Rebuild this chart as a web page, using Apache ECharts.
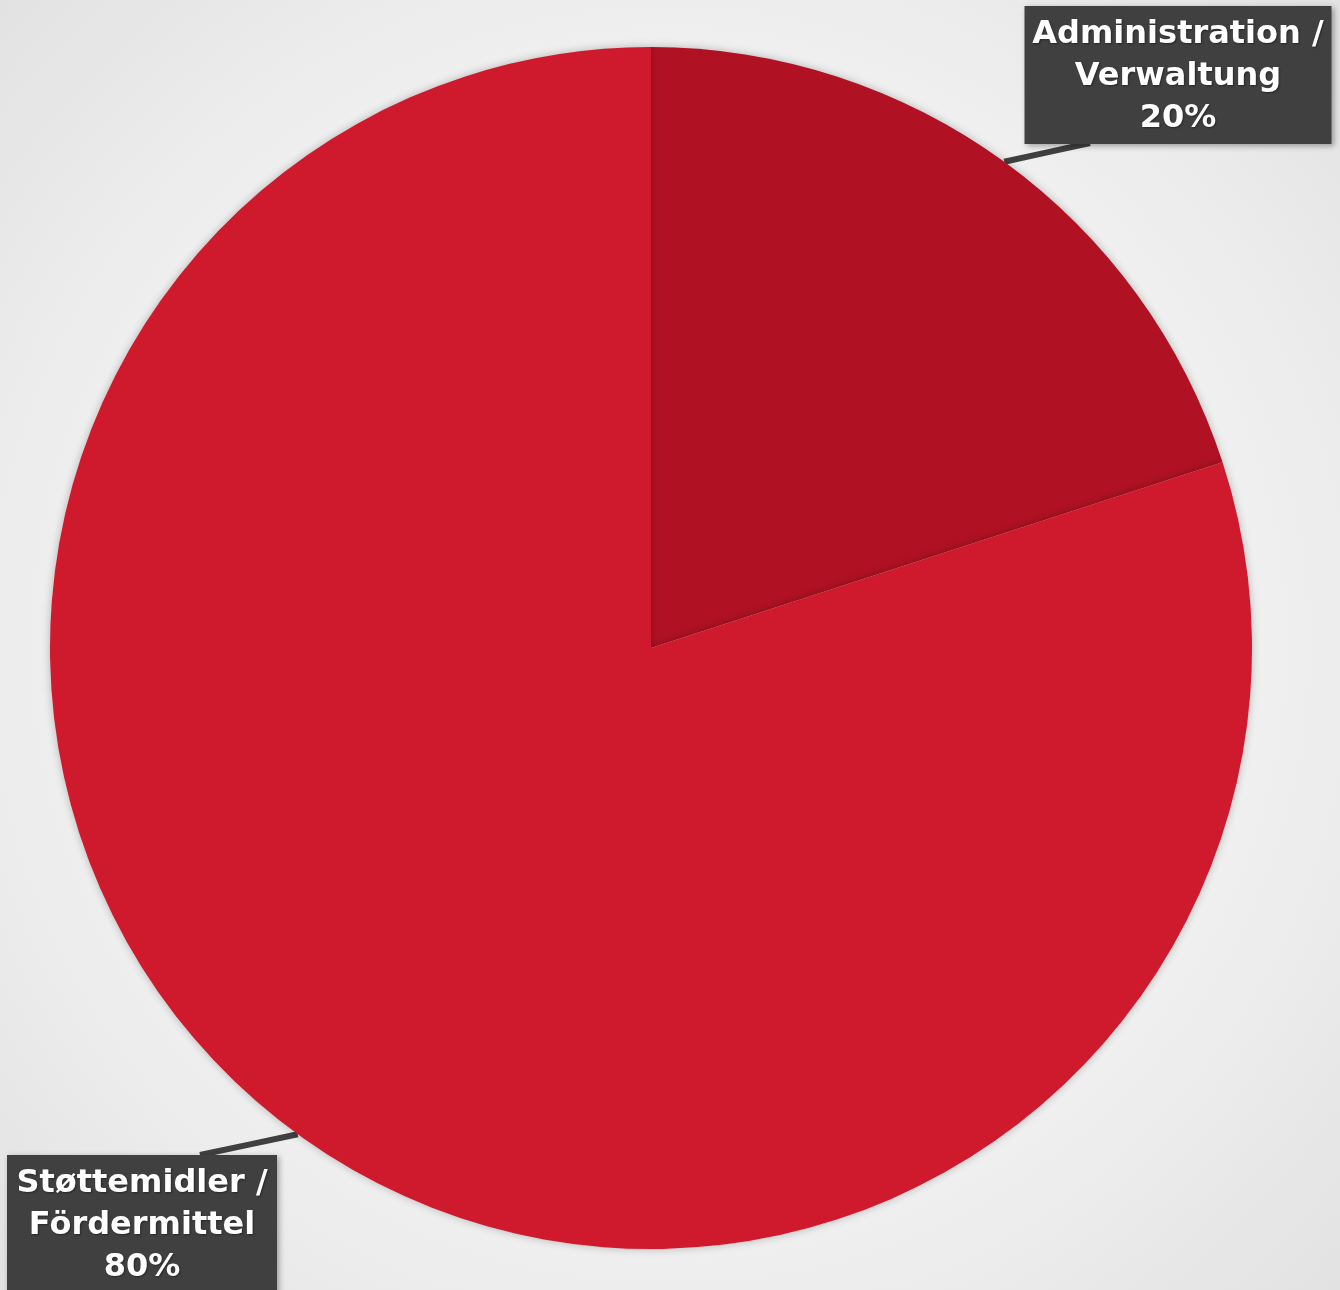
<!DOCTYPE html>
<html>
<head>
<meta charset="utf-8">
<script src="https://cdn.jsdelivr.net/npm/echarts@6/dist/echarts.min.js"></script>
<style>
html,body{margin:0;padding:0;}
#c{width:1340px;height:1290px;background:radial-gradient(circle at 50% 50%, #ffffff 0%, #f3f3f3 55%, #e2e2e2 100%);}
</style>
</head>
<body>
<div id="c"></div>
<script>
const categories = ['Administration /\nVerwaltung', 'Støttemidler /\nFördermittel'];
const values = [20, 80];
const colors = ['#B01223', '#CF1A2E'];

const chart = echarts.init(document.getElementById('c'), null, {renderer: 'canvas'});
const labelBoxes = [
  {cx: 1178, y: 6, w: 287, end: [1090, 143]},
  {cx: 142, y: 1155, w: 250, end: [200, 1155]}
];
chart.setOption({
  animation: false,
  series: [{
    type: 'pie',
    center: [651, 648],
    radius: [0, 601],
    startAngle: 90,
    clockwise: true,
    data: categories.map((c, i) => ({
      name: c, value: values[i],
      itemStyle: {color: colors[i]},
      label: {width: labelBoxes[i].w}
    })),
    itemStyle: {
      shadowBlur: 8,
      shadowColor: 'rgba(0,0,0,0.25)',
      borderWidth: 0
    },
    label: {
      show: true,
      position: 'outside',
      formatter: p => p.name + '\n' + p.percent + '%',
      color: '#ffffff',
      fontFamily: 'DejaVu Sans',
      fontWeight: 'bold',
      fontSize: 32,
      lineHeight: 42,
      align: 'center',
      overflow: 'none',
      backgroundColor: '#404040',
      padding: [8, 10, 4, 10],
      shadowBlur: 6,
      shadowColor: 'rgba(0,0,0,0.35)',
      shadowOffsetX: 2,
      shadowOffsetY: 2,
      textShadowColor: 'rgba(0,0,0,0.4)',
      textShadowBlur: 2,
      textShadowOffsetX: 1,
      textShadowOffsetY: 1
    },
    labelLine: {
      show: true,
      length: 20,
      length2: 20,
      lineStyle: {color: '#404040', width: 6}
    },
    labelLayout: function (params) {
      const b = labelBoxes[params.dataIndex];
      const start = params.labelLinePoints ? params.labelLinePoints[0] : b.end;
      const mid = [(start[0] + b.end[0]) / 2, (start[1] + b.end[1]) / 2];
      return {
        x: b.cx, y: b.y, align: 'center', verticalAlign: 'top',
        labelLinePoints: [start, mid, b.end]
      };
    }
  }]
});
</script>
</body>
</html>
